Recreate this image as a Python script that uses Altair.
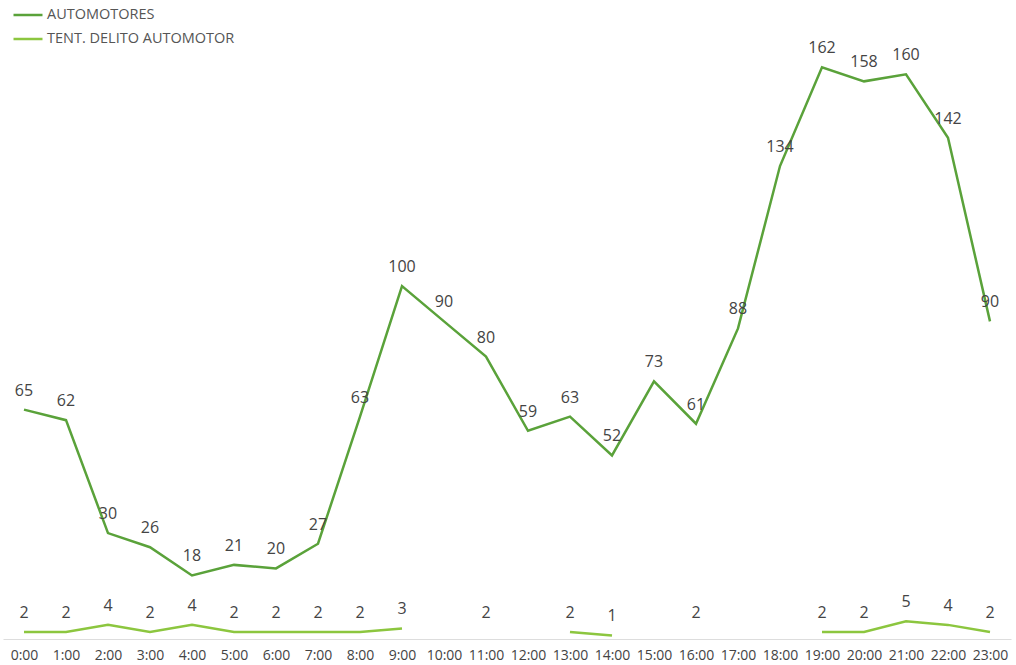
import altair as alt
import pandas as pd

hours = [f"{h}:00" for h in range(24)]
automotores = [65, 62, 30, 26, 18, 21, 20, 27, 63, 100, 90, 80, 59, 63, 52, 73, 61, 88, 134, 162, 158, 160, 142, 90]
tentativa = [2, 2, 4, 2, 4, 2, 2, 2, 2, 3, None, 2, None, 2, 1, None, 2, None, None, 2, 2, 5, 4, 2]
series_names = ["AUTOMOTORES", "TENT. DELITO AUTOMOTOR"]
colors = ["#5aa23a", "#8cc63f"]

rows = []
for name, vals in zip(series_names, [automotores, tentativa]):
    seg = 0
    for h, v in zip(hours, vals):
        if v is None:
            seg += 1
        rows.append({"hour": h, "series": name, "v": v, "seg": f"{name}-{seg}"})
df = pd.DataFrame(rows)

x = alt.X("hour:N", sort=hours, title=None,
          scale=alt.Scale(type="point", padding=0.5),
          axis=alt.Axis(labelAngle=0, ticks=False, domainColor="#dddddd", domainWidth=1,
                        labelPadding=9, labelFontSize=14, labelColor="#444444",
                        labelFont="Open Sans", grid=False))
y = alt.Y("v:Q", title=None, scale=alt.Scale(domain=[0, 170], nice=False), axis=None)
color = alt.Color("series:N", scale=alt.Scale(domain=series_names, range=colors),
                  legend=alt.Legend(title=None, orient="none", legendX=9, legendY=-40,
                                    symbolType="stroke", symbolSize=841, symbolStrokeWidth=2.5,
                                    labelFontSize=14.5, labelColor="#555555", labelFont="Open Sans",
                                    labelLimit=0, rowPadding=1, labelOffset=3))

base = alt.Chart(df)
lines = base.transform_filter("datum.v != null").mark_line(strokeWidth=2.5).encode(
    x=x, y=y, color=color, detail="seg:N")
labels = base.transform_filter("datum.v != null").mark_text(
    dy=-19, fontSize=16, color="#444444", font="Open Sans", fontWeight=500).encode(
    x=x, y=y, text="v:Q")

chart = (lines + labels).properties(
    width=1008, height=600,
    autosize=alt.AutoSizeParams(type="none"),
    padding={"left": 3, "top": 39, "right": 5, "bottom": 26},
).configure_view(stroke=None)

chart.save("out.html", embed_options={"renderer": "svg", "actions": False})
